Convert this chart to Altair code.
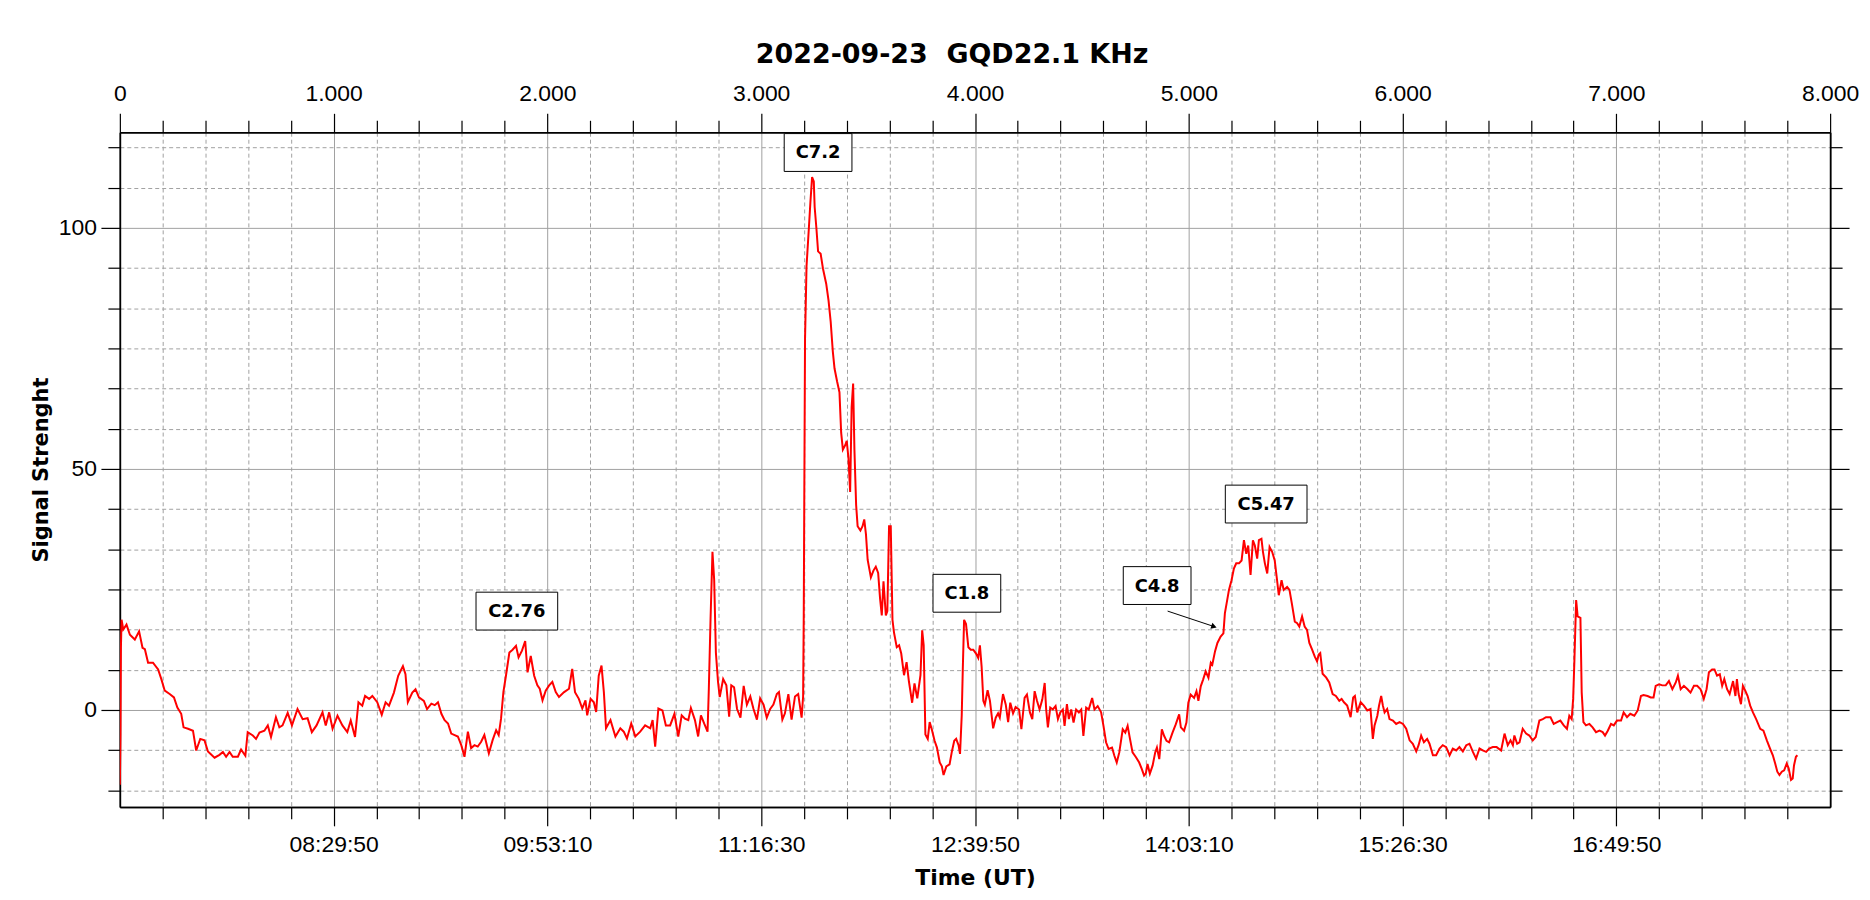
import altair as alt
import pandas as pd

TITLE = "2022-09-23\u00a0 GQD22.1 KHz"
Y_TITLE = "Signal Strenght"
X_TITLE = "Time (UT)"
# bottom axis labels at sample index 1000 ... 7000
TIME_LABELS = ["08:29:50", "09:53:10", "11:16:30", "12:39:50", "14:03:10", "15:26:30", "16:49:50"]

# ---- signal trace: (sample index, signal strength) ----
morning = [
    (0, -15.5), (3, -5), (5, 13), (8, 18.7), (16, 16.7), (31, 17.7), (47, 15.6), (70, 14.6),
    (90, 16.3), (106, 12.9), (117, 12.6), (132, 9.8), (155, 9.8), (179, 8.4), (194, 6.4),
    (210, 4.0), (233, 3.3), (253, 2.6), (269, 0.5), (287, -0.8), (298, -3.6), (319, -3.9),
    (342, -4.3), (357, -8.4), (376, -6.0), (396, -6.3), (412, -8.6), (443, -9.9), (466, -9.3),
    (482, -8.7), (497, -9.7), (513, -8.7), (528, -9.7), (552, -9.7), (567, -8.2), (587, -9.5),
    (598, -4.6), (622, -5.3), (637, -6.0), (653, -4.7), (676, -4.3), (692, -3.2), (707, -5.6),
    (730, -1.5), (746, -3.6), (761, -3.2), (785, -0.6), (805, -3.2), (831, 0.2), (855, -1.9),
    (878, -1.7), (898, -4.6), (920, -3.2), (948, -0.5), (963, -3.2), (979, -0.5), (995, -3.9),
    (1018, -1.2), (1041, -3.2), (1064, -4.6), (1080, -2.2), (1100, -5.6), (1116, 1.6),
    (1134, 0.9), (1147, 2.9), (1166, 2.3), (1181, 2.9), (1204, 1.6), (1225, -1.0), (1243, 1.6),
    (1259, 0.9), (1282, 3.6), (1302, 7.1), (1324, 9.1), (1336, 7.4), (1347, 1.6), (1368, 3.6),
    (1383, 4.3), (1399, 2.6), (1422, 1.9), (1437, 0.2),
]
c276_region = [
    (1457, 1.3), (1473, 1.0), (1488, 1.6), (1504, -0.8), (1519, -2.1), (1535, -2.8), (1550, -4.9),
    (1566, -5.2), (1581, -5.5), (1597, -7.3), (1612, -9.7), (1628, -4.5), (1643, -7.9),
    (1659, -7.3), (1674, -7.6), (1690, -6.6), (1705, -5.2), (1726, -9.0), (1744, -6.2),
    (1760, -4.2), (1772, -5.2), (1783, -1.8), (1794, 3.7), (1806, 7.1), (1822, 11.9),
    (1837, 12.5), (1853, 13.3), (1865, 10.9), (1881, 12.3), (1896, 14.3), (1907, 7.8),
    (1922, 11.2), (1938, 7.1), (1953, 5.1), (1964, 4.4), (1977, 2.0), (1992, 4.0), (2008, 5.1),
    (2023, 5.8), (2039, 3.7), (2054, 2.7), (2078, 3.7), (2101, 4.4), (2116, 8.5), (2129, 3.7),
    (2147, 2.3), (2163, 0.3), (2178, 2.0), (2186, -1.1), (2202, 2.3), (2217, 1.6), (2228, -0.4),
    (2240, 7.1), (2253, 9.2), (2264, 3.7), (2274, -3.8), (2295, -2.1), (2318, -5.5),
    (2341, -3.8), (2357, -4.5), (2372, -5.9), (2392, -2.8), (2411, -5.5), (2434, -4.5),
    (2457, -3.2), (2481, -3.8), (2492, -2.1), (2504, -7.6), (2519, 0.3), (2538, -0.1),
    (2554, -3.2), (2574, -3.2), (2594, -0.8), (2612, -5.5), (2628, -1.1), (2643, -1.8),
    (2659, -2.1), (2671, 0.4), (2690, -2.1), (2705, -5.5), (2718, -1.1), (2733, -2.8),
    (2749, -4.5), (2755, 4.4), (2763, 18.8), (2772, 32.8), (2780, 27.0), (2788, 11.9),
    (2798, 5.8), (2806, 2.7), (2822, 6.4), (2837, 5.1), (2850, -1.4), (2860, 5.1), (2873, 4.7),
]
c72_region = [
    (2887, 0.2), (2903, -1.6), (2918, 5.0), (2933, 1.1), (2949, 2.8), (2964, 0.2), (2980, -2.0),
    (2995, 2.4), (3011, 1.1), (3026, -1.6), (3042, 0.2), (3057, 1.1), (3073, 3.3), (3083, 3.7),
    (3099, -2.0), (3111, -0.7), (3127, 3.3), (3142, -2.0), (3158, 2.8), (3173, 3.3),
    (3189, -1.6), (3196, 2.8), (3199, 19.6), (3202, 48.7), (3205, 77.0), (3212, 92.0),
    (3223, 100.0), (3230, 105.2), (3238, 110.5), (3246, 109.6), (3250, 104.3), (3258, 100.0),
    (3266, 95.1), (3278, 94.6), (3289, 91.5), (3304, 88.4), (3315, 84.9), (3325, 80.5),
    (3335, 74.3), (3343, 70.8), (3355, 68.1), (3366, 65.9), (3374, 57.5), (3382, 54.0),
    (3393, 54.9), (3400, 55.8), (3408, 52.3), (3416, 45.2), (3423, 62.8), (3430, 67.7),
    (3436, 54.0), (3444, 42.5), (3451, 38.1), (3464, 37.2), (3474, 38.1), (3482, 39.5),
    (3490, 36.4), (3498, 31.1), (3513, 27.5), (3525, 28.9), (3536, 29.7), (3547, 28.4),
    (3556, 23.1), (3564, 19.6), (3572, 26.7), (3583, 19.6), (3590, 20.5), (3598, 38.1),
    (3606, 38.1), (3614, 18.7), (3621, 16.1), (3634, 13.0), (3645, 13.4), (3655, 11.7),
    (3668, 7.2), (3680, 9.9), (3691, 5.9), (3706, 1.5), (3717, 5.5), (3730, 2.4), (3745, 7.2),
    (3753, 16.5), (3760, 13.4), (3768, -5.1), (3779, -6.0), (3788, -2.5), (3799, -4.2),
    (3811, -6.4), (3822, -7.8), (3835, -10.9), (3845, -11.7), (3853, -13.5), (3866, -11.7),
    (3881, -11.3), (3892, -8.6), (3903, -6.4), (3912, -6.0), (3923, -7.3), (3930, -9.1),
    (3938, -1.1), (3943, 8.6), (3949, 18.7), (3958, 17.8), (3969, 13.0), (3980, 12.5),
    (3992, 12.5), (4005, 11.7), (4015, 10.8), (4023, 13.4), (4031, 9.0), (4039, 1.9),
    (4046, 1.1), (4059, 4.1), (4070, 1.9), (4085, -3.8), (4097, -1.6), (4108, -0.7),
    (4116, -1.6), (4131, 3.3), (4144, 1.1), (4155, -2.5), (4165, 1.5), (4178, -0.7), (4190, 0.6),
]
c547_region = [
    (4206, 0.1), (4217, -4.0), (4232, 2.5), (4243, 3.2), (4257, -0.5), (4268, -1.9), (4279, 3.9),
    (4290, 1.9), (4302, 0.1), (4315, 2.2), (4326, 5.6), (4333, 0.1), (4341, -3.6), (4352, 0.5),
    (4364, 0.1), (4377, 0.8), (4388, -1.9), (4399, -0.5), (4411, 0.1), (4419, -3.3), (4430, 1.2),
    (4439, -1.9), (4450, 0.1), (4461, -2.6), (4473, 0.1), (4486, -0.5), (4497, 0.1),
    (4507, -5.4), (4520, 0.5), (4532, 0.1), (4548, 2.5), (4559, 0.1), (4574, 0.8), (4590, -0.5),
    (4601, -3.3), (4613, -6.7), (4625, -8.1), (4641, -7.8), (4652, -9.5), (4663, -10.9),
    (4675, -8.8), (4691, -4.0), (4703, -4.7), (4714, -3.3), (4725, -6.0), (4737, -8.8),
    (4753, -9.8), (4768, -10.9), (4780, -12.2), (4791, -13.6), (4799, -13.2), (4807, -11.2),
    (4818, -13.2), (4831, -11.5), (4843, -8.8), (4851, -7.8), (4862, -10.2), (4874, -4.0),
    (4885, -5.4), (4896, -6.4), (4908, -6.7), (4924, -4.7), (4939, -3.0), (4955, -0.9),
    (4963, -3.6), (4978, -4.3), (4989, -2.6), (4998, 1.5), (5009, 3.2), (5025, 2.5),
    (5036, 3.9), (5045, 1.9), (5056, 4.9), (5067, 6.3), (5079, 8.0), (5092, 6.7), (5103, 9.8),
    (5110, 9.4), (5123, 12.2), (5134, 13.9), (5149, 15.2), (5162, 15.9), (5169, 20.1),
    (5177, 22.1), (5188, 24.9), (5200, 26.9), (5211, 29.3), (5222, 30.4), (5235, 30.4),
    (5247, 31.0), (5258, 35.2), (5269, 32.4), (5278, 34.1), (5289, 28.0), (5300, 35.2),
    (5309, 34.1), (5320, 31.4), (5328, 35.2), (5340, 35.5), (5347, 32.8), (5356, 30.4),
    (5367, 28.3), (5378, 33.8), (5390, 32.8), (5402, 31.0), (5413, 26.9), (5421, 23.8),
    (5434, 26.9), (5444, 24.9), (5460, 25.5), (5471, 24.9), (5482, 22.1), (5496, 18.3),
    (5507, 18.0), (5517, 17.3), (5530, 19.4), (5542, 17.3), (5553, 16.6), (5564, 13.9),
    (5577, 12.5), (5589, 11.1), (5600, 10.1), (5608, 11.5), (5615, 11.8),
]
afternoon = [
    (5626, 7.5), (5643, 6.7), (5657, 5.7), (5673, 3.3), (5688, 2.9), (5704, 1.9), (5715, 2.3),
    (5726, 1.6), (5741, 0.9), (5757, -1.5), (5769, 2.6), (5777, 2.9), (5788, -0.5), (5804, 1.6),
    (5819, 0.9), (5835, -0.1), (5850, 0.2), (5861, -6.0), (5869, -3.2), (5882, -1.2),
    (5890, 0.9), (5900, 2.9), (5908, 0.9), (5916, -0.5), (5928, 0.2), (5939, -1.9), (5955, -2.2),
    (5970, -2.9), (5986, -2.5), (6002, -2.9), (6017, -3.9), (6033, -6.3), (6048, -7.0),
    (6064, -8.6), (6075, -7.3), (6087, -5.3), (6100, -6.7), (6115, -6.0), (6126, -7.0),
    (6142, -9.4), (6157, -9.4), (6173, -8.0), (6188, -7.3), (6204, -7.7), (6220, -9.4),
    (6235, -8.0), (6251, -8.4), (6266, -7.7), (6282, -8.6), (6298, -7.3), (6313, -7.0),
    (6329, -8.7), (6344, -10.1), (6360, -8.0), (6375, -8.4), (6391, -8.7), (6405, -8.0),
    (6422, -7.7), (6440, -7.7), (6461, -8.4), (6477, -4.9), (6492, -7.3), (6505, -6.3),
    (6516, -7.3), (6523, -5.3), (6536, -7.0), (6547, -6.7), (6562, -3.9), (6578, -4.9),
    (6593, -5.3), (6609, -6.3), (6623, -5.6), (6640, -2.2), (6656, -1.9), (6671, -1.5),
    (6692, -1.5), (6707, -2.9), (6723, -2.5), (6738, -2.2), (6754, -3.2), (6769, -3.9),
    (6780, -1.2), (6791, -1.9), (6798, 2.3), (6804, 10.5), (6812, 22.8), (6819, 19.4),
    (6832, 19.1), (6838, 3.6), (6846, -2.5), (6858, -3.2), (6874, -2.9), (6889, -3.6),
    (6905, -4.6), (6921, -4.3), (6936, -4.6), (6947, -5.3), (6960, -4.3), (6975, -2.9),
    (6988, -3.2), (7003, -2.2), (7022, -2.2), (7034, -0.5), (7050, -1.5), (7065, -0.8),
    (7084, -1.2), (7100, -0.1), (7112, 2.3),
]
evening = [
    (7115, 2.9), (7127, 3.1), (7146, 2.9), (7161, 2.6), (7174, 2.6), (7184, 5.0), (7200, 5.3),
    (7215, 5.1), (7231, 5.1), (7246, 6.0), (7262, 4.3), (7278, 5.7), (7288, 7.1), (7301, 4.3),
    (7316, 5.0), (7333, 4.3), (7347, 3.6), (7363, 5.0), (7378, 5.0), (7394, 4.3), (7409, 2.3),
    (7422, 4.3), (7433, 7.8), (7448, 8.4), (7459, 8.4), (7471, 7.1), (7484, 7.4), (7495, 5.0),
    (7505, 6.4), (7518, 4.3), (7530, 3.3), (7546, 6.0), (7557, 2.9), (7564, 6.4), (7572, 3.3),
    (7583, 1.2), (7592, 5.0), (7603, 4.0), (7614, 2.9), (7626, 0.9), (7639, -0.5), (7654, -1.9),
    (7673, -3.9), (7688, -4.3), (7704, -6.3), (7719, -8.0), (7732, -9.4), (7743, -11.1),
    (7753, -12.8), (7763, -13.5), (7774, -12.8), (7785, -12.5), (7797, -11.1), (7806, -12.1),
    (7817, -14.5), (7825, -14.2), (7831, -11.5), (7840, -9.7), (7847, -9.4),
]

# ---- flare annotations ----
FLARE_LABELS = ["C2.76", "C7.2", "C1.8", "C4.8", "C5.47"]
FLARE_X = [1857, 3266, 3962, 4852, 5362]
FLARE_Y = [20.5, 115.6, 24.2, 25.8, 42.7]
ARROW_X = [4901, 5118]
ARROW_Y = [20.5, 17.3]

# ---- tables ----
trace = morning + c276_region + c72_region + c547_region + afternoon + evening
df = pd.DataFrame(trace, columns=["sample", "signal"])
ann = pd.DataFrame({"label": FLARE_LABELS, "x": FLARE_X, "y": FLARE_Y})
arrow = pd.DataFrame({"x": [ARROW_X[0]], "y": [ARROW_Y[0]], "x2": [ARROW_X[1]], "y2": [ARROW_Y[1]]})

# ---- layout / style ----
W, H = 1717, 677.3
LABEL_FONT = "Liberation Sans"
BOLD_FONT = "DejaVu Sans"
xs = alt.Scale(domain=[0, 8000], nice=False, zero=False)
ys = alt.Scale(domain=[-20.1, 119.8], nice=False, zero=False)

step = 50 / 6
ks = list(range(-2, 15))
major_x = list(range(1000, 8000, 1000))
minor_x = [v for v in range(200, 8000, 200) if v % 1000]
top_major = list(range(0, 8001, 1000))
major_y = [0, 50, 100]
minor_y = [round(k * step, 6) for k in ks if k % 6]

bottom_expr = "[" + ",".join("'%s'" % t for t in TIME_LABELS) + "][round(datum.value/1000)-1]"
top_expr = "datum.value === 0 ? '0' : format(datum.value / 1000, '.3f')"

common = dict(domainColor="black", domainWidth=1.5, tickColor="black", tickWidth=1.2,
              labelFont=LABEL_FONT, labelFontSize=23, labelColor="black",
              gridColor="#a0a0a0", gridWidth=1)


def axis_layer(xaxis, yaxis):
    return alt.Chart(df).mark_line(strokeOpacity=0).encode(
        x=alt.X("sample:Q", scale=xs, axis=xaxis),
        y=alt.Y("signal:Q", scale=ys, axis=yaxis),
    )


bottom_minor = alt.Axis(orient="bottom", values=minor_x, tickSize=12, labels=False, grid=True,
                        gridDash=[4, 3], title=None, **common)
left_minor = alt.Axis(orient="left", values=minor_y, tickSize=12, labels=False, grid=True,
                      gridDash=[4, 3], title=None, **common)
bottom_major = alt.Axis(orient="bottom", values=major_x, tickSize=19, labelExpr=bottom_expr,
                        labelPadding=8, labelFlush=False, labelOverlap=False, grid=True,
                        title=X_TITLE, titleFont=BOLD_FONT, titleFontSize=22, titleFontWeight="bold",
                        titleColor="black", titleY=77.7, titleBaseline="alphabetic", **common)
left_major = alt.Axis(orient="left", values=major_y, tickSize=19, labelPadding=4.5, grid=True,
                      title=Y_TITLE, titleFont=BOLD_FONT, titleFontSize=21, titleFontWeight="bold",
                      titleColor="black", titleX=-79, titleY=H / 2, titleAngle=270,
                      titleBaseline="middle", titleAlign="center", **common)
top_major_ax = alt.Axis(orient="top", values=top_major, tickSize=19, labelExpr=top_expr,
                        labelPadding=7.5, labelFlush=False, labelOverlap=False, grid=False,
                        title=None, **common)
right_major = alt.Axis(orient="right", values=major_y, tickSize=19, labels=False, grid=False,
                       title=None, **common)
top_minor = alt.Axis(orient="top", values=minor_x, tickSize=12, labels=False, grid=False,
                     title=None, **common)
right_minor = alt.Axis(orient="right", values=minor_y, tickSize=12, labels=False, grid=False,
                       title=None, **common)

layers = [
    axis_layer(bottom_minor, left_minor),
    axis_layer(bottom_major, left_major),
    axis_layer(top_major_ax, right_major),
    axis_layer(top_minor, right_minor),
]

signal_line = alt.Chart(df).mark_line(color="#ff0000", strokeWidth=2, clip=True).encode(
    x=alt.X("sample:Q", scale=xs, axis=None),
    y=alt.Y("signal:Q", scale=ys, axis=None),
)
layers.append(signal_line)

arrow_rule = alt.Chart(arrow).mark_rule(color="black", strokeWidth=1).encode(
    x=alt.X("x:Q", scale=xs, axis=None), y=alt.Y("y:Q", scale=ys, axis=None),
    x2="x2:Q", y2="y2:Q",
)
arrow_head = alt.Chart(arrow).mark_point(shape="triangle-right", filled=True, size=40, angle=18,
                                         color="black", opacity=1).encode(
    x=alt.X("x2:Q", scale=xs, axis=None), y=alt.Y("y2:Q", scale=ys, axis=None),
)
layers += [arrow_rule, arrow_head]

for lab in FLARE_LABELS:
    box_w = 14 * len(lab) + 12
    box = alt.Chart(ann).transform_filter(alt.datum.label == lab).mark_rect(
        width=box_w, height=38, fill="white", stroke="black", strokeWidth=1
    ).encode(x=alt.X("x:Q", scale=xs, axis=None), y=alt.Y("y:Q", scale=ys, axis=None))
    layers.append(box)

texts = alt.Chart(ann).mark_text(font=BOLD_FONT, fontWeight="bold", fontSize=18, color="black",
                                 align="center", baseline="middle", dy=1).encode(
    x=alt.X("x:Q", scale=xs, axis=None), y=alt.Y("y:Q", scale=ys, axis=None), text="label:N",
)
layers.append(texts)

chart = alt.layer(*layers).resolve_axis(x="independent", y="independent").properties(
    width=W, height=H,
    autosize=alt.AutoSizeParams(type="none"),
    padding={"left": 112.3, "top": 123, "right": 32, "bottom": 85},
    title=alt.TitleParams(TITLE, font=BOLD_FONT, fontSize=27, fontWeight="bold", color="black",
                          anchor="middle", frame="group", baseline="alphabetic", offset=17,
                          dx=-23, dy=24),
).configure_view(stroke=None).configure(background="white")

chart.save("out.html", embed_options={"renderer": "svg", "actions": False})
